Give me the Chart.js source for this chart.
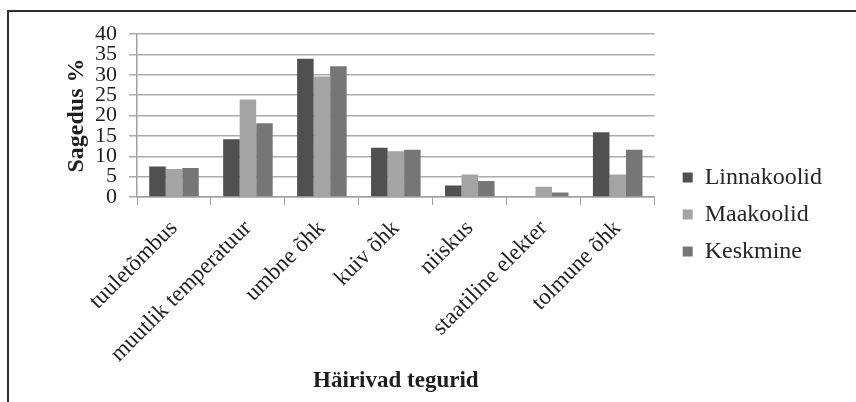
<!DOCTYPE html>
<html>
<head>
<meta charset="utf-8">
<script src="https://cdn.jsdelivr.net/npm/chart.js@4"></script>
<style>
html,body{margin:0;padding:0;background:#fff;}
#wrap{position:relative;width:856px;height:402px;overflow:hidden;}
#frame{position:absolute;left:7px;top:10px;width:900px;height:420px;border-top:2px solid #2e2e2e;border-left:2px solid #2e2e2e;}
#chart{position:absolute;left:0;top:0;}
</style>
</head>
<body>
<div id="wrap"><div id="frame"></div><canvas id="chart" width="856" height="402"></canvas></div>
<script>
//Data
var categories = ["tuuletõmbus","muutlik temperatuur","umbne õhk","kuiv õhk","niiskus","staatiline elekter","tolmune õhk"];
var linnakoolid = [7.5,14.2,33.9,12.1,2.8,0,15.9];
var maakoolid = [6.9,23.9,29.6,11.2,5.5,2.5,5.5];
var keskmine = [7.1,18.1,32.1,11.6,3.9,1.1,11.6];
var seriesNames = ["Linnakoolid","Maakoolid","Keskmine"];
var yMin = 0, yMax = 40, yStep = 5;
var serif = "'Liberation Serif','Times New Roman',serif";
var textColor = "#1e1e1e";
//Chart
var ctx = document.getElementById("chart");
var chart = new Chart(ctx,{
	type:'bar',
	data:{
		labels:categories,
		datasets:[
			{label:seriesNames[0],data:linnakoolid,backgroundColor:'#505050'},
			{label:seriesNames[1],data:maakoolid,backgroundColor:'#a4a4a4'},
			{label:seriesNames[2],data:keskmine,backgroundColor:'#767676'}
		]
	},
	options:{
		responsive:false,
		animation:false,
		devicePixelRatio:1,
		datasets:{bar:{categoryPercentage:0.67,barPercentage:1,borderWidth:0}},
		layout:{padding:{left:0,top:34,right:24,bottom:7}},
		plugins:{
			tooltip:{enabled:false},
			legend:{
				position:'right',
				align:'center',
				maxWidth:220,
				labels:{
					boxWidth:10,
					boxHeight:10,
					padding:13,
					color:'#262626',
					font:{family:serif,size:24}
				}
			}
		},
		scales:{
			x:{
				grid:{offset:true,drawOnChartArea:false,tickLength:8,color:'#a0a0a0',lineWidth:1},
				border:{color:'#a0a0a0',width:1.5},
				ticks:{autoSkip:false,minRotation:45,maxRotation:45,padding:10,color:textColor,font:{family:serif,size:23}},
				title:{display:true,text:'Häirivad tegurid',color:textColor,font:{family:serif,size:23,weight:'bold'},padding:{top:0,bottom:0}},
				afterFit:function(s){s.height = 198;}
			},
			y:{
				min:yMin,
				max:yMax,
				grid:{color:'#ababab',lineWidth:1.5,tickLength:8},
				border:{color:'#a0a0a0',width:1.5},
				ticks:{stepSize:yStep,autoSkip:false,padding:12,color:textColor,font:{family:serif,size:22}},
				title:{display:true,text:'Sagedus %',color:textColor,font:{family:serif,size:24,weight:'bold'},padding:{top:62,bottom:0}},
				afterFit:function(s){s.width = 137;}
			},
			//spacer between plot and legend
			gap:{
				type:'linear',
				position:'right',
				grid:{display:false},
				border:{display:false},
				ticks:{display:false},
				afterFit:function(s){s.width = 15;}
			}
		}
	}
});
</script>
</body>
</html>
